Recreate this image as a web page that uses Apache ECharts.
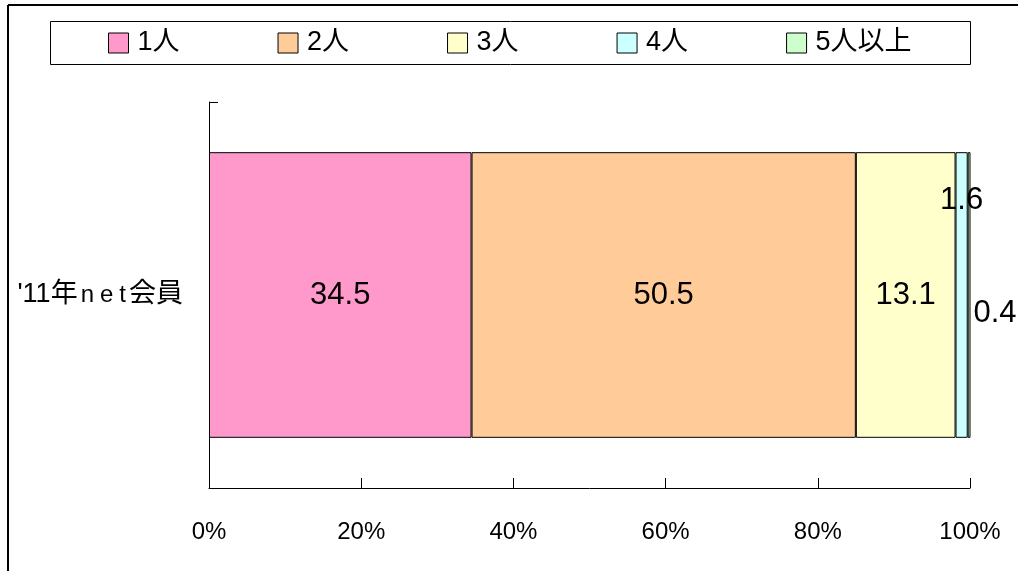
<!DOCTYPE html>
<html>
<head>
<meta charset="utf-8">
<script src="https://cdn.jsdelivr.net/npm/echarts@6/dist/echarts.min.js"></script>
<style>
html,body{margin:0;padding:0;background:#fff;}
#chart{width:1018px;height:571px;}
</style>
</head>
<body>
<div id="chart"></div>
<script>
// ---- data ----
const categories = ["'11年net会員"];
const seriesNames = ['1人', '2人', '3人', '4人', '5人以上'];
const seriesValues = [34.5, 50.5, 13.1, 1.6, 0.4];
const xTickValues = [0, 20, 40, 60, 80, 100];

// ---- styles ----
const colors = ['#FF99CC', '#FFCC99', '#FFFFCC', '#CCFFFF', '#CCFFCC'];
const FONT = "'Liberation Sans', Arial, 'Noto Sans CJK JP', sans-serif";

const labelStyles = [
  { position: 'inside' },
  { position: 'inside' },
  { position: 'inside' },
  { position: ['50%', 48], align: 'center', verticalAlign: 'middle' },
  { position: ['100%', 161], align: 'left', verticalAlign: 'middle', offset: [3, 0] }
];

const series = seriesNames.map((name, i) => ({
  name: name,
  type: 'bar',
  stack: 'total',
  barWidth: '74%',
  data: [seriesValues[i]],
  itemStyle: { color: colors[i], borderColor: '#000', borderWidth: 1 },
  label: Object.assign({
    show: true,
    color: '#000',
    fontSize: 31,
    fontFamily: FONT
  }, labelStyles[i]),
  emphasis: { disabled: true },
  animation: false
}));

const chart = echarts.init(document.getElementById('chart'), null, { renderer: 'canvas' });
chart.setOption({
  backgroundColor: '#fff',
  animation: false,
  graphic: [
    { type: 'line', shape: { x1: 8, y1: 5, x2: 1018, y2: 5 }, style: { stroke: '#000', lineWidth: 2 } },
    { type: 'line', shape: { x1: 8, y1: 5, x2: 8, y2: 571 }, style: { stroke: '#000', lineWidth: 2 } },
    { type: 'rect', shape: { x: 50.5, y: 21.5, width: 920, height: 43 }, style: { fill: 'none', stroke: '#000', lineWidth: 1 } }
  ],
  legend: {
    data: seriesNames,
    left: 103,
    top: 24,
    itemWidth: 20,
    itemHeight: 20,
    itemGap: 98,
    icon: 'rect',
    itemStyle: { borderColor: '#000', borderWidth: 1 },
    textStyle: { fontSize: 27, color: '#000', fontFamily: FONT, lineHeight: 28, padding: [0, 0, 0, 4] },
    selectedMode: false
  },
  grid: { left: 209, right: 48, top: 102, bottom: 83, containLabel: false },
  xAxis: {
    type: 'value',
    min: 0,
    max: 100,
    interval: 20,
    axisLine: { show: true, lineStyle: { color: '#000', width: 1 } },
    axisTick: { show: true, inside: true, length: 10, lineStyle: { color: '#000' } },
    splitLine: { show: false },
    axisLabel: {
      margin: 32,
      color: '#000',
      fontSize: 24,
      fontFamily: FONT,
      formatter: function (v) { return xTickValues.indexOf(v) >= 0 ? v + '%' : ''; }
    }
  },
  yAxis: {
    type: 'category',
    data: categories,
    axisLine: { show: true, lineStyle: { color: '#000', width: 1 } },
    axisTick: { show: true, inside: true, length: 9, lineStyle: { color: '#000' } },
    axisLabel: {
      margin: 26,
      color: '#000',
      fontSize: 27,
      fontFamily: FONT,
      formatter: function (v) {
        const m = v.match(/^(.*年)(net)(.*)$/);
        if (!m) return v;
        return '{a|' + m[1] + '}' + m[2].split('').map(c => '{b|' + c + '}').join('') + '{a|' + m[3] + '}';
      },
      rich: {
        a: { fontSize: 27, fontFamily: FONT, color: '#000' },
        b: { fontSize: 24, fontFamily: FONT, color: '#000', padding: [0, 3, 0, 3] }
      }
    }
  },
  series: series
});
</script>
</body>
</html>
